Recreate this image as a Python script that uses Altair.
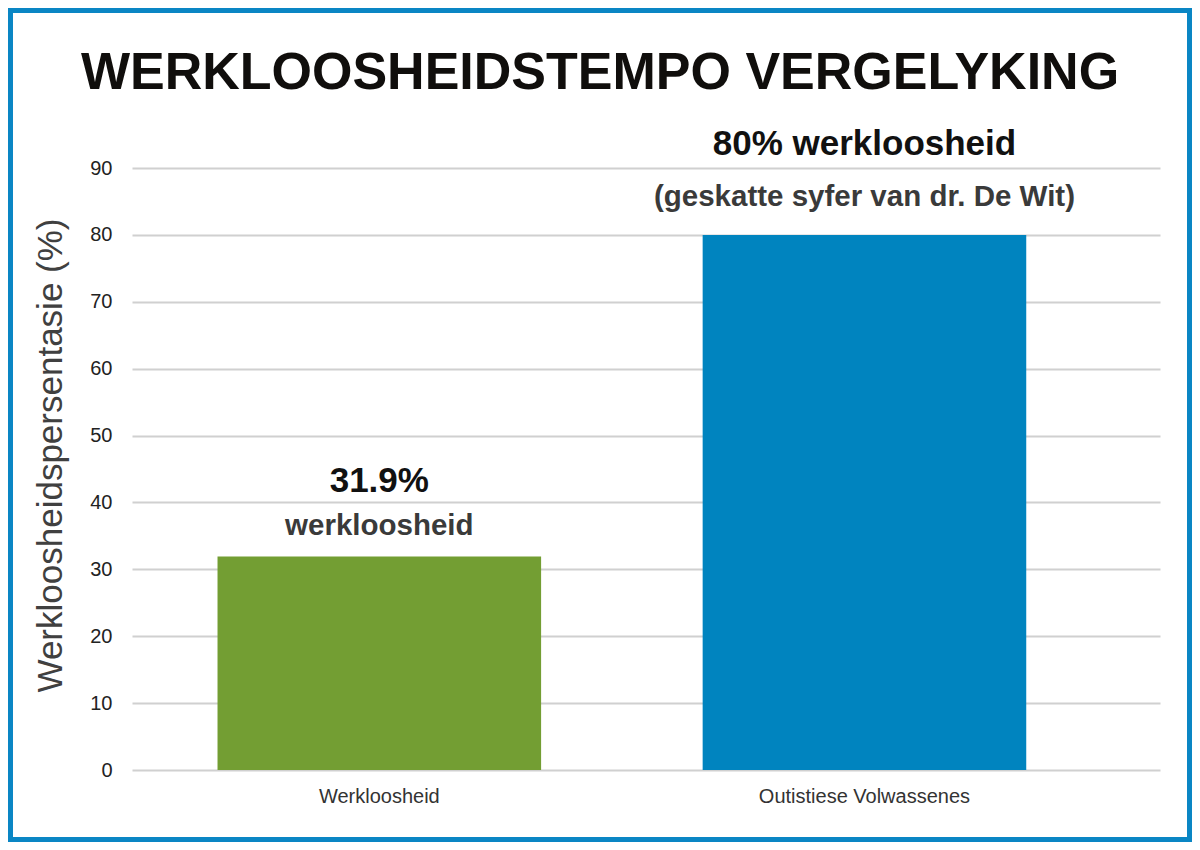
import altair as alt
import pandas as pd

title_text = "WERKLOOSHEIDSTEMPO VERGELYKING"
y_title = "Werkloosheidspersentasie (%)"
categories = ["Werkloosheid", "Outistiese Volwassenes"]
values = [31.9, 80]
colors = ["#739e33", "#0084bf"]
line1 = ["31.9%", "80% werkloosheid"]
line2 = ["werkloosheid", "(geskatte syfer van dr. De Wit)"]
y_ticks = [0, 10, 20, 30, 40, 50, 60, 70, 80, 90]

df = pd.DataFrame({"cat": categories, "val": values, "l1": line1, "l2": line2})

FONT = "Liberation Sans"
W, H = 1028, 602
PL, PT, PR, PB = 124, 160, 32, 72

x_enc = alt.X(
    "cat:N",
    sort=categories,
    title=None,
    scale=alt.Scale(paddingInner=0.333, paddingOuter=0.226, align=0.39),
    axis=alt.Axis(
        labelAngle=0, labelFont=FONT, labelFontSize=20, labelColor="#333333",
        labelPadding=16, labelLimit=0, ticks=False, domain=False, grid=False,
    ),
)
y_enc = alt.Y(
    "val:Q",
    title=y_title,
    scale=alt.Scale(domain=[0, 90], nice=False),
    axis=alt.Axis(
        values=y_ticks, labelFont=FONT, labelFontSize=20, labelColor="#222222",
        labelPadding=20, ticks=False, domain=False, grid=True,
        gridColor="#d0d0d0", gridWidth=2,
        titleFont=FONT, titleFontSize=35, titleFontWeight="normal",
        titleColor="#404040", titlePadding=21, titleY=287,
    ),
)

base = alt.Chart(df)

bars = base.mark_bar().encode(
    x=x_enc,
    y=y_enc,
    color=alt.Color("cat:N", scale=alt.Scale(domain=categories, range=colors), legend=None),
)


def labels(cat, dy1, dy2):
    b = base.transform_filter(alt.datum.cat == cat)
    t1 = b.mark_text(font=FONT, fontSize=35, fontWeight="bold", color="#111111",
                     baseline="alphabetic", align="center", dy=dy1).encode(
        x=alt.X("cat:N", sort=categories), y="val:Q", text="l1:N")
    t2 = b.mark_text(font=FONT, fontSize=29.5, fontWeight="bold", color="#3a3a3a",
                     baseline="alphabetic", align="center", dy=dy2).encode(
        x=alt.X("cat:N", sort=categories), y="val:Q", text="l2:N")
    return t1 + t2


lab_a = labels(categories[0], -65, -22)
lab_b = labels(categories[1], -80, -29)

title = alt.Chart(alt.Data(values=[{"t": title_text}])).mark_text(
    font=FONT, fontSize=52, fontWeight="bold", color="#100e0c",
    baseline="alphabetic", align="center",
).encode(x=alt.value((PL + W + PR) / 2 - PL), y=alt.value(-79), text="t:N")

border = alt.Chart(alt.Data(values=[{"b": 1}])).mark_rect(
    filled=False, stroke="#0a86c4", strokeWidth=5,
).encode(
    x=alt.value(-PL + 2.5), x2=alt.value(W + PR - 2.5),
    y=alt.value(-PT + 2.5), y2=alt.value(H + PB - 2.5),
)

chart = alt.layer(bars, lab_a, lab_b, title, border).properties(
    width=W, height=H,
    autosize=alt.AutoSizeParams(type="none"),
    padding={"left": PL, "top": PT, "right": PR, "bottom": PB},
    background="white",
).configure_view(stroke=None)

chart.save("out.html", embed_options={"renderer": "svg", "actions": False})
